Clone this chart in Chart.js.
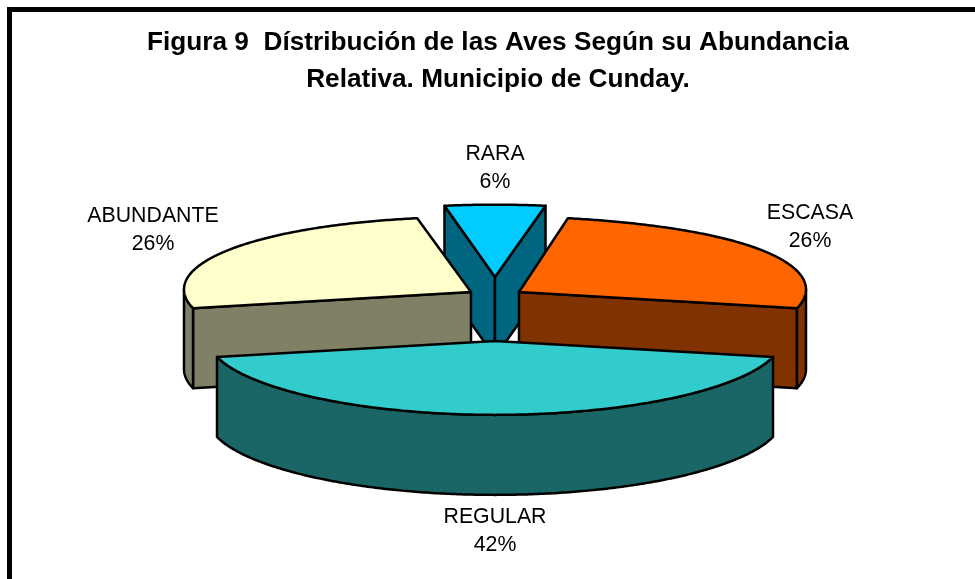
<!DOCTYPE html>
<html>
<head>
<meta charset="utf-8">
<style>html,body{margin:0;padding:0;background:#fff}canvas{display:block}</style>
<script src="https://cdn.jsdelivr.net/npm/chart.js@4"></script>
</head>
<body>
<canvas id="c" width="975" height="579"></canvas>
<script>
const categories = ['RARA', 'ESCASA', 'REGULAR', 'ABUNDANTE'];
const percentages = [6, 26, 42, 26];
const topColors = ['#00CCFF', '#FF6600', '#33CCCC', '#FFFFCC'];
const sideColors = ['#006680', '#803300', '#1A6666', '#808066'];
const titleLines = ['Figura 9  Dístribución de las Aves Según su Abundancia', 'Relativa. Municipio de Cunday.'];

// Look of the tilted 3D pie
const FONT = '"Liberation Sans", Arial, sans-serif';
const TILT = 75 / 287, DEPTH = 80, WARP = 0.035;
const EXPLODE = [[-3, -15], [21, 0], [-3, 49], [-27, 0]];
const TAPER = [0.07, 0.105, 0, 0];
const YSCALE = [0.965, 1, 0.985, 1];
const PAINT_ORDER = [0, 3, 1, 2];
const LABEL_AT = [[495, 154], [810, 213], [495, 517], [153, 216]];

const pie3d = {
  id: 'pie3d',
  beforeDraw(chart) {
    const c = chart.ctx;
    c.save();
    c.fillStyle = '#fff';
    c.fillRect(0, 0, chart.width, chart.height);
    c.fillStyle = '#000';
    c.fillRect(7, 7, chart.width - 7, 5);
    c.fillRect(7, 7, 5, chart.height - 7);
    c.restore();
  },
  beforeDatasetsDraw(chart) {
    const c = chart.ctx;
    const arcs = chart.getDatasetMeta(0).data;
    c.save();
    c.lineWidth = 2.5;
    c.lineJoin = 'round';
    c.strokeStyle = '#000';
    for (const i of PAINT_ORDER) {
      const p = arcs[i].getProps(['x', 'y', 'startAngle', 'endAngle', 'outerRadius']);
      const ox = p.x + EXPLODE[i][0], oy = p.y + EXPLODE[i][1], R = p.outerRadius;
      const at = (a, d) => {
        const s = Math.sin(a);
        const t = 1 - TAPER[i] * Math.pow(Math.max(0, -s), 8);
        return [ox + R * Math.cos(a) * t,
                oy + R * TILT * YSCALE[i] * (s - WARP * (1 - s * s)) + d];
      };
      const shape = (pts, fill) => {
        c.beginPath();
        pts.forEach((q, n) => n ? c.lineTo(q[0], q[1]) : c.moveTo(q[0], q[1]));
        c.closePath();
        c.fillStyle = fill;
        c.fill();
        c.stroke();
      };
      const arcPts = (a0, a1, d) => {
        const n = Math.max(2, Math.ceil(Math.abs(a1 - a0) / 0.01)), out = [];
        for (let k = 0; k <= n; k++) out.push(at(a0 + (a1 - a0) * k / n, d));
        return out;
      };
      const a0 = p.startAngle, a1 = p.endAngle;
      // Radial walls that face the viewer
      if (-Math.cos(a0) > 0) {
        const q = at(a0, 0);
        shape([[ox, oy], q, [q[0], q[1] + DEPTH], [ox, oy + DEPTH]], sideColors[i]);
      }
      if (Math.cos(a1) > 0) {
        const q = at(a1, 0);
        shape([[ox, oy], q, [q[0], q[1] + DEPTH], [ox, oy + DEPTH]], sideColors[i]);
      }
      // Outer rim: the front half of the circle only
      const two = Math.PI * 2;
      const wrap = Math.floor(a0 / two) * two;
      for (const w of [wrap, wrap + two]) {
        const r0 = Math.max(a0, w), r1 = Math.min(a1, w + Math.PI);
        if (r1 > r0) {
          shape(arcPts(r0, r1, 0).concat(arcPts(r1, r0, DEPTH)), sideColors[i]);
        }
      }
      // Top face
      shape([[ox, oy]].concat(arcPts(a0, a1, 0)), topColors[i]);
    }
    c.restore();
    return false;
  },
  afterDraw(chart) {
    const c = chart.ctx;
    c.save();
    c.fillStyle = '#000';
    c.font = '21.3px ' + FONT;
    c.textAlign = 'center';
    c.textBaseline = 'middle';
    categories.forEach((name, i) => {
      c.fillText(name, LABEL_AT[i][0], LABEL_AT[i][1]);
      c.fillText(percentages[i] + '%', LABEL_AT[i][0], LABEL_AT[i][1] + 28);
    });
    c.restore();
  }
};

new Chart(document.getElementById('c'), {
  type: 'pie',
  plugins: [pie3d],
  data: {
    labels: categories,
    datasets: [{ data: percentages, backgroundColor: topColors, radius: 287 }]
  },
  options: {
    responsive: false,
    animation: false,
    rotation: -10.8,
    layout: { padding: { left: 21, right: 0, top: 0, bottom: 103 } },
    plugins: {
      legend: { display: false },
      tooltip: { enabled: false },
      title: {
        display: true,
        text: titleLines,
        color: '#000',
        font: { family: FONT, size: 26.2, weight: 'bold', lineHeight: 37 / 26.2 },
        padding: { top: 24, bottom: 10 }
      }
    }
  }
});
</script>
</body>
</html>
